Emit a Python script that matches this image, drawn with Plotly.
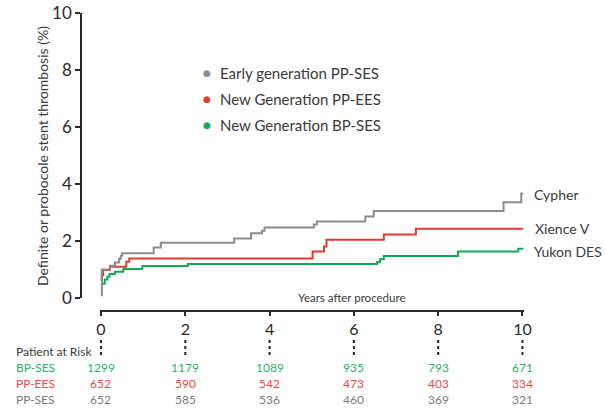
import plotly.graph_objects as go

W, H = 606, 408

# ---- data ----
t_ppses = [0, 0.02, 0.21, 0.33, 0.43, 0.47, 0.5, 1.25, 1.42, 3.16, 3.56, 3.82, 3.88, 5.05, 5.12, 6.27, 6.47, 9.55, 9.97, 10.02]
v_ppses = [0.1, 1.0, 1.13, 1.25, 1.38, 1.48, 1.57, 1.77, 1.94, 2.09, 2.27, 2.36, 2.47, 2.58, 2.68, 2.86, 3.05, 3.36, 3.67, 3.67]

t_ppees = [0, 0.02, 0.05, 0.21, 0.6, 0.67, 5.02, 5.29, 5.35, 6.71, 7.47, 10.02]
v_ppees = [0.6, 0.8, 0.98, 1.1, 1.27, 1.39, 1.63, 1.81, 2.04, 2.23, 2.43, 2.43]

t_bpses = [0, 0.09, 0.15, 0.2, 0.33, 0.53, 0.98, 2.06, 6.55, 6.62, 6.71, 8.47, 9.9, 10.02]
v_bpses = [0.5, 0.65, 0.75, 0.84, 0.92, 1.02, 1.12, 1.19, 1.26, 1.36, 1.47, 1.63, 1.73, 1.73]

legend_names = ["Early generation PP-SES", "New Generation PP-EES", "New Generation BP-SES"]
curve_labels = ["Cypher", "Xience V", "Yukon DES"]

x_ticks = [0, 2, 4, 6, 8, 10]
y_ticks = [0, 2, 4, 6, 8, 10]

risk_rows = ["BP-SES", "PP-EES", "PP-SES"]
risk_bpses = [1299, 1179, 1089, 935, 793, 671]
risk_ppees = [652, 590, 542, 473, 403, 334]
risk_ppses = [652, 585, 536, 460, 369, 321]

# ---- styles ----
C_GRAY, C_RED, C_GREEN = "#8c8c8c", "#e23a2c", "#13a85a"
T_GRAY, T_RED, T_GREEN = "#7a7a7a", "#ec4a40", "#2cb16c"
FONT = "Lato, 'Noto Sans', sans-serif"
DARK = "#2a2a2a"
TXT = "#3a3a3a"

def px(x):
    return x / W

def py(y):
    return 1 - y / H

X0, X10 = 101.0, 522.5          # pixel position of years 0 and 10
PAD = 0.03                      # small range padding so edge marks are not clipped
UNIT = (X10 - X0) / 10

fig = go.Figure()
for t, v, c in [(t_bpses, v_bpses, C_GREEN), (t_ppees, v_ppees, C_RED), (t_ppses, v_ppses, C_GRAY)]:
    fig.add_trace(go.Scatter(x=t, y=v, mode="lines", line=dict(color=c, width=2, shape="hv"),
                             showlegend=False, hoverinfo="skip"))

ann = []
# y title
ann.append(dict(x=px(42), y=py(156), xref="paper", yref="paper", text="Definite or probocole stent thrombosis (%)",
                textangle=-90, showarrow=False, xanchor="center", yanchor="middle",
                font=dict(size=14, color=TXT, family=FONT)))
ann.append(dict(x=px(351), y=py(297), xref="paper", yref="paper", text="Years after procedure",
                showarrow=False, xanchor="center", yanchor="middle", font=dict(size=11.5, color=TXT, family=FONT)))
# legend
for name, col, yy in zip(legend_names, [C_GRAY, C_RED, C_GREEN], [73, 99, 124.5]):
    ann.append(dict(x=px(206.5), y=py(yy), xref="paper", yref="paper", text="●", showarrow=False,
                    xanchor="center", yanchor="middle",
                    font=dict(size=9, color=col, family="DejaVu Sans")))
    ann.append(dict(x=px(217.5), y=py(yy), xref="paper", yref="paper", text=name, showarrow=False,
                    xanchor="left", yanchor="middle", font=dict(size=15, color=TXT, family=FONT)))
# curve labels
for lab, yy, xx in zip(curve_labels, [194, 228, 251], [531.5, 533, 531.5]):
    ann.append(dict(x=px(xx), y=py(yy), xref="paper", yref="paper", text=lab, showarrow=False,
                    xanchor="left", yanchor="middle", font=dict(size=14, color=TXT, family=FONT)))
# risk table
ann.append(dict(x=px(14), y=py(351), xref="paper", yref="paper", text="Patient at Risk", showarrow=False,
                xanchor="left", yanchor="middle", font=dict(size=12, color=TXT, family=FONT)))
for lab, vals, col, yy in zip(risk_rows, [risk_bpses, risk_ppees, risk_ppses], [T_GREEN, T_RED, T_GRAY], [367, 383, 399]):
    ann.append(dict(x=px(14), y=py(yy), xref="paper", yref="paper", text=lab, showarrow=False,
                    xanchor="left", yanchor="middle", font=dict(size=12, color=col, family=FONT)))
    for xt, val in zip(x_ticks, vals):
        ann.append(dict(x=xt, y=py(yy), xref="x", yref="paper", text=str(val), showarrow=False,
                        xanchor="center", yanchor="middle", font=dict(size=12, color=col, family=FONT)))

shapes = []
for xt in x_ticks:
    shapes.append(dict(type="line", xref="x", yref="paper", x0=xt, x1=xt, y0=py(340), y1=py(357),
                       line=dict(color="#222", width=2, dash="dot")))

fig.update_layout(
    template="none",
    width=W, height=H, margin=dict(l=0, r=0, t=0, b=0, pad=0), autosize=False,
    paper_bgcolor="white", plot_bgcolor="white",
    font=dict(family=FONT, color=DARK),
    xaxis=dict(domain=[px(X0 - PAD * UNIT), px(X10 + PAD * UNIT)], range=[-PAD, 10 + PAD],
               anchor="free", position=py(311), automargin=False,
               showline=True, linecolor=DARK, linewidth=1.5, ticks="outside", ticklen=4, tickwidth=1.5,
               tickcolor=DARK, tickvals=x_ticks, tickfont=dict(size=16, color=DARK), showgrid=False,
               zeroline=False),
    yaxis=dict(domain=[py(298), py(13)], range=[0, 10], anchor="free", position=px(81),
               automargin=False,
               showline=True, linecolor=DARK, linewidth=1.5, ticks="outside", ticklen=5, tickwidth=1.5,
               tickcolor=DARK, tickvals=y_ticks, tickfont=dict(size=17, color=DARK), showgrid=False,
               zeroline=False),
    annotations=ann, shapes=shapes,
)

fig.write_html("out.html", config={"displayModeBar": False},
               post_script="document.body.style.margin='0';")
